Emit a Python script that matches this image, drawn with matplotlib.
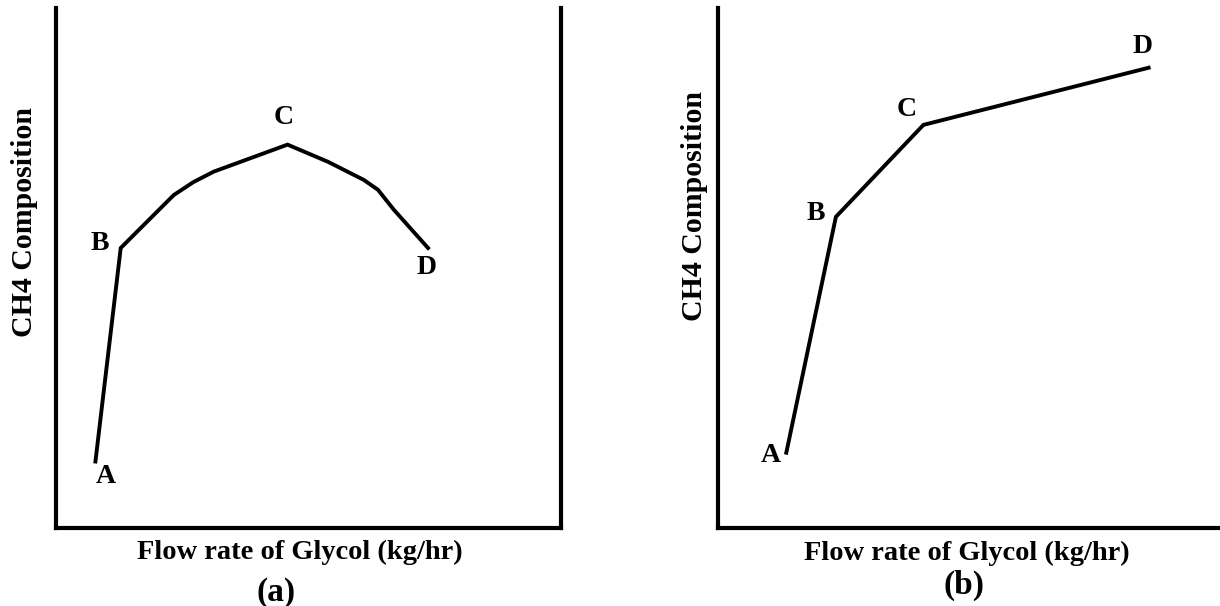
import matplotlib
matplotlib.use("Agg")
import matplotlib.pyplot as plt

W, H = 1220, 606

# Panel (a): CH4 composition vs glycol flow rate (arbitrary units)
flow_a = [7.9, 12.9, 23.4, 27.3, 31.3, 45.9, 53.9, 61.0, 63.8, 66.9, 73.7]
ch4_a = [12.7, 53.8, 64.0, 66.5, 68.5, 73.7, 70.4, 66.9, 65.0, 61.2, 53.8]
labels_a = {"A": 0, "B": 1, "C": 5, "D": 10}
offs_a = {"A": (10, -15), "B": (-21, 5), "C": (-4, 27), "D": (-1, -19)}

# Panel (b)
flow_b = [13.5, 23.3, 40.6, 85.1]
ch4_b = [14.4, 59.8, 77.5, 88.5]
labels_b = {"A": 0, "B": 1, "C": 2, "D": 3}
offs_b = {"A": (-15, -3), "B": (-20, 3), "C": (-17, 15), "D": (-6, 21)}

font = {"family": "Liberation Serif", "weight": "bold"}

fig = plt.figure(figsize=(W / 100, H / 100), dpi=100)


def make_axes(left_px, right_px, top_px, bottom_px, right_spine):
    ax = fig.add_axes([left_px / W, 1 - bottom_px / H,
                       (right_px - left_px) / W, (bottom_px - top_px) / H])
    ax.set_xlim(0, 100)
    ax.set_ylim(0, 100)
    ax.set_xticks([])
    ax.set_yticks([])
    ax.spines["top"].set_visible(False)
    ax.spines["right"].set_visible(right_spine)
    for s in ax.spines.values():
        s.set_linewidth(3.0)
    return ax


ax1 = make_axes(55.5, 561, 8, 527.5, True)
ax2 = make_axes(718, 1224, 8, 527.5, False)

for ax, xs, ys, labs, offs in [(ax1, flow_a, ch4_a, labels_a, offs_a),
                                (ax2, flow_b, ch4_b, labels_b, offs_b)]:
    ax.plot(xs, ys, color="black", lw=2.8, solid_joinstyle="miter")
    for name, i in labs.items():
        dx, dy = offs[name]
        ax.annotate(name, (xs[i], ys[i]), xytext=(dx * 0.72, dy * 0.72),
                    textcoords="offset points", ha="center", va="center",
                    fontsize=20, **font)

# axis labels
fig.text(300 / W, 1 - 552 / H, "Flow rate of Glycol (kg/hr)", ha="center",
         va="center", fontsize=20.5, **font)
fig.text(967 / W, 1 - 553 / H, "Flow rate of Glycol (kg/hr)", ha="center",
         va="center", fontsize=20.5, **font)
fig.text(276 / W, 1 - 592 / H, "(a)", ha="center", va="center",
         fontsize=24, **font)
fig.text(964 / W, 1 - 585 / H, "(b)", ha="center", va="center",
         fontsize=24, **font)
fig.text(24 / W, 1 - 222 / H, "CH4 Composition", ha="center", va="center",
         rotation=90, fontsize=21.5, **font)
fig.text(695 / W, 1 - 206 / H, "CH4 Composition", ha="center", va="center",
         rotation=90, fontsize=21.5, **font)

fig.savefig("out.png", dpi=100, facecolor="white")
